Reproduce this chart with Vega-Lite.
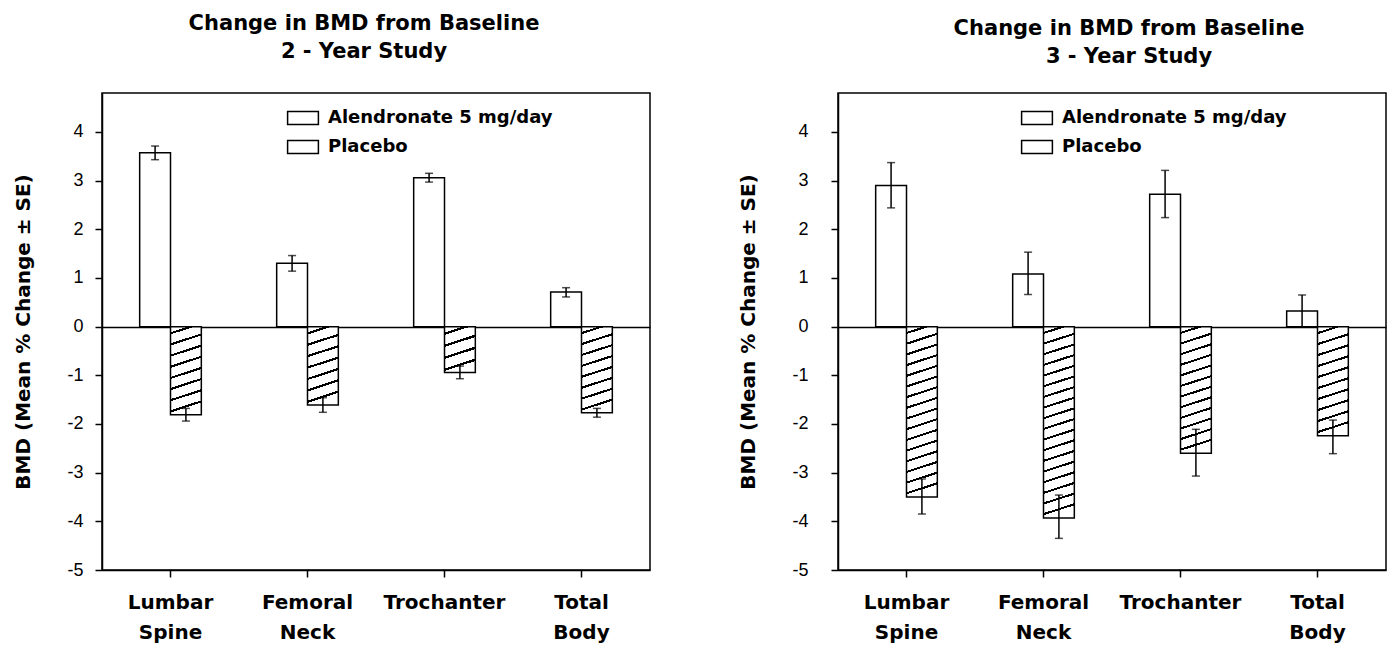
{
  "$schema": "https://vega.github.io/schema/vega-lite/v6.json",
  "background": "white",
  "padding": {"left": 13, "top": 12, "right": 5, "bottom": 5},
  "spacing": 87,
  "datasets": {
    "bmd": [
      {"study": "2-Year", "site": "Lumbar Spine", "group": "Alendronate 5 mg/day", "mean": 3.57, "lo": 3.43, "hi": 3.71},
      {"study": "2-Year", "site": "Lumbar Spine", "group": "Placebo", "mean": -1.81, "lo": -1.94, "hi": -1.68},
      {"study": "2-Year", "site": "Femoral Neck", "group": "Alendronate 5 mg/day", "mean": 1.30, "lo": 1.14, "hi": 1.46},
      {"study": "2-Year", "site": "Femoral Neck", "group": "Placebo", "mean": -1.61, "lo": -1.76, "hi": -1.46},
      {"study": "2-Year", "site": "Trochanter", "group": "Alendronate 5 mg/day", "mean": 3.06, "lo": 2.97, "hi": 3.15},
      {"study": "2-Year", "site": "Trochanter", "group": "Placebo", "mean": -0.94, "lo": -1.07, "hi": -0.81},
      {"study": "2-Year", "site": "Total Body", "group": "Alendronate 5 mg/day", "mean": 0.71, "lo": 0.61, "hi": 0.80},
      {"study": "2-Year", "site": "Total Body", "group": "Placebo", "mean": -1.77, "lo": -1.86, "hi": -1.68},
      {"study": "3-Year", "site": "Lumbar Spine", "group": "Alendronate 5 mg/day", "mean": 2.90, "lo": 2.44, "hi": 3.37},
      {"study": "3-Year", "site": "Lumbar Spine", "group": "Placebo", "mean": -3.50, "lo": -3.85, "hi": -3.13},
      {"study": "3-Year", "site": "Femoral Neck", "group": "Alendronate 5 mg/day", "mean": 1.08, "lo": 0.66, "hi": 1.53},
      {"study": "3-Year", "site": "Femoral Neck", "group": "Placebo", "mean": -3.93, "lo": -4.35, "hi": -3.46},
      {"study": "3-Year", "site": "Trochanter", "group": "Alendronate 5 mg/day", "mean": 2.72, "lo": 2.24, "hi": 3.21},
      {"study": "3-Year", "site": "Trochanter", "group": "Placebo", "mean": -2.60, "lo": -3.07, "hi": -2.11},
      {"study": "3-Year", "site": "Total Body", "group": "Alendronate 5 mg/day", "mean": 0.32, "lo": -0.01, "hi": 0.65},
      {"study": "3-Year", "site": "Total Body", "group": "Placebo", "mean": -2.24, "lo": -2.61, "hi": -1.92}
    ]
  },
  "resolve": {"scale": {"fill": "independent"}, "legend": {"fill": "independent"}},
  "config": {
    "view": {"stroke": "black", "strokeWidth": 1.5},
    "axis": {"domainColor": "black", "domainWidth": 1.5, "tickColor": "black", "tickWidth": 1.5, "tickSize": 7, "grid": false, "labelColor": "black", "titleColor": "black"},
    "title": {"font": "DejaVu Sans", "fontSize": 21, "fontWeight": "bold", "lineHeight": 28, "color": "black", "anchor": "middle"}
  },
  "hconcat": [
    {
      "width": 548,
      "height": 477,
      "title": {"text": ["Change in BMD from Baseline", "2 - Year Study"], "offset": 31, "dx": -12},
      "data": {"name": "bmd"},
      "transform": [{"filter": "datum.study === '2-Year'"}],
      "encoding": {
        "x": {"field": "site", "type": "nominal", "sort": ["Lumbar Spine", "Femoral Neck", "Trochanter", "Total Body"], "scale": {"paddingInner": 0.55, "paddingOuter": 0.275},
          "axis": {"title": null, "labelAngle": 0, "labelFont": "DejaVu Sans", "labelFontWeight": "bold", "labelFontSize": 20, "labelLineHeight": 30, "labelExpr": "split(datum.label, ' ')", "labelPadding": 15}},
        "xOffset": {"field": "group", "type": "nominal", "sort": ["Alendronate 5 mg/day", "Placebo"], "scale": {"paddingInner": 0, "paddingOuter": 0}}
      },
      "layer": [
        {
          "mark": {"type": "bar", "stroke": "black", "strokeWidth": 1.5},
          "encoding": {
            "y": {"field": "mean", "type": "quantitative", "title": "BMD (Mean % Change ± SE)", "scale": {"domain": [-5, 4.8], "nice": false, "zero": false},
              "axis": {"values": [-5, -4, -3, -2, -1, 0, 1, 2, 3, 4], "labelExpr": "toString(datum.value)", "labelFont": "Liberation Sans", "labelFontSize": 18, "labelPadding": 12, "titleFont": "DejaVu Sans", "titleFontWeight": "bold", "titleFontSize": 20, "titlePadding": 33, "grid": true, "gridColor": "black", "gridWidth": 1.5, "gridOpacity": {"condition": {"test": "datum.value === 0", "value": 1}, "value": 0}}},
            "fill": {
              "field": "group", "type": "nominal",
              "scale": {"domain": ["Alendronate 5 mg/day", "Placebo"], "range": ["white", "white"]},
              "legend": {"title": null, "orient": "none", "legendX": 186, "legendY": 10, "symbolType": "M-1.1,-0.46H1.1V0.46H-1.1Z", "symbolSize": 784, "symbolStrokeColor": "black", "symbolStrokeWidth": 1.5, "labelFont": "DejaVu Sans", "labelFontSize": 18, "labelFontWeight": "bold", "labelColor": "black", "labelOffset": 10, "labelLimit": 400, "rowPadding": 4},
              "condition": [
                {"test": "datum.group === 'Placebo' && datum.site === 'Lumbar Spine'", "value": {"gradient": "linear", "x1": 0, "y1": 0, "x2": 0.114, "y2": 1, "stops": [{"offset": 0, "color": "#fff"},
                  {"offset": 0.0625, "color": "#fff"}, {"offset": 0.0625, "color": "#000"}, {"offset": 0.0875, "color": "#000"}, {"offset": 0.0875, "color": "#fff"},
                  {"offset": 0.1875, "color": "#fff"}, {"offset": 0.1875, "color": "#000"}, {"offset": 0.2125, "color": "#000"}, {"offset": 0.2125, "color": "#fff"},
                  {"offset": 0.3125, "color": "#fff"}, {"offset": 0.3125, "color": "#000"}, {"offset": 0.3375, "color": "#000"}, {"offset": 0.3375, "color": "#fff"},
                  {"offset": 0.4375, "color": "#fff"}, {"offset": 0.4375, "color": "#000"}, {"offset": 0.4625, "color": "#000"}, {"offset": 0.4625, "color": "#fff"},
                  {"offset": 0.5625, "color": "#fff"}, {"offset": 0.5625, "color": "#000"}, {"offset": 0.5875, "color": "#000"}, {"offset": 0.5875, "color": "#fff"},
                  {"offset": 0.6875, "color": "#fff"}, {"offset": 0.6875, "color": "#000"}, {"offset": 0.7125, "color": "#000"}, {"offset": 0.7125, "color": "#fff"},
                  {"offset": 0.8125, "color": "#fff"}, {"offset": 0.8125, "color": "#000"}, {"offset": 0.8375, "color": "#000"}, {"offset": 0.8375, "color": "#fff"},
                  {"offset": 0.9375, "color": "#fff"}, {"offset": 0.9375, "color": "#000"}, {"offset": 0.9625, "color": "#000"}, {"offset": 0.9625, "color": "#fff"},
                  {"offset": 1, "color": "#fff"}]}},
                {"test": "datum.group === 'Placebo' && datum.site === 'Femoral Neck'", "value": {"gradient": "linear", "x1": 0, "y1": 0, "x2": 0.128, "y2": 1, "stops": [{"offset": 0, "color": "#fff"},
                  {"offset": 0.0714, "color": "#fff"}, {"offset": 0.0714, "color": "#000"}, {"offset": 0.1, "color": "#000"}, {"offset": 0.1, "color": "#fff"},
                  {"offset": 0.2143, "color": "#fff"}, {"offset": 0.2143, "color": "#000"}, {"offset": 0.2429, "color": "#000"}, {"offset": 0.2429, "color": "#fff"},
                  {"offset": 0.3571, "color": "#fff"}, {"offset": 0.3571, "color": "#000"}, {"offset": 0.3857, "color": "#000"}, {"offset": 0.3857, "color": "#fff"},
                  {"offset": 0.5, "color": "#fff"}, {"offset": 0.5, "color": "#000"}, {"offset": 0.5286, "color": "#000"}, {"offset": 0.5286, "color": "#fff"},
                  {"offset": 0.6429, "color": "#fff"}, {"offset": 0.6429, "color": "#000"}, {"offset": 0.6714, "color": "#000"}, {"offset": 0.6714, "color": "#fff"},
                  {"offset": 0.7857, "color": "#fff"}, {"offset": 0.7857, "color": "#000"}, {"offset": 0.8143, "color": "#000"}, {"offset": 0.8143, "color": "#fff"},
                  {"offset": 0.9286, "color": "#fff"}, {"offset": 0.9286, "color": "#000"}, {"offset": 0.9571, "color": "#000"}, {"offset": 0.9571, "color": "#fff"},
                  {"offset": 1, "color": "#fff"}]}},
                {"test": "datum.group === 'Placebo' && datum.site === 'Trochanter'", "value": {"gradient": "linear", "x1": 0, "y1": 0, "x2": 0.22, "y2": 1, "stops": [{"offset": 0, "color": "#fff"},
                  {"offset": 0.125, "color": "#fff"}, {"offset": 0.125, "color": "#000"}, {"offset": 0.175, "color": "#000"}, {"offset": 0.175, "color": "#fff"},
                  {"offset": 0.375, "color": "#fff"}, {"offset": 0.375, "color": "#000"}, {"offset": 0.425, "color": "#000"}, {"offset": 0.425, "color": "#fff"},
                  {"offset": 0.625, "color": "#fff"}, {"offset": 0.625, "color": "#000"}, {"offset": 0.675, "color": "#000"}, {"offset": 0.675, "color": "#fff"},
                  {"offset": 0.875, "color": "#fff"}, {"offset": 0.875, "color": "#000"}, {"offset": 0.925, "color": "#000"}, {"offset": 0.925, "color": "#fff"},
                  {"offset": 1, "color": "#fff"}]}},
                {"test": "datum.group === 'Placebo' && datum.site === 'Total Body'", "value": {"gradient": "linear", "x1": 0, "y1": 0, "x2": 0.115, "y2": 1, "stops": [{"offset": 0, "color": "#fff"},
                  {"offset": 0.0625, "color": "#fff"}, {"offset": 0.0625, "color": "#000"}, {"offset": 0.0875, "color": "#000"}, {"offset": 0.0875, "color": "#fff"},
                  {"offset": 0.1875, "color": "#fff"}, {"offset": 0.1875, "color": "#000"}, {"offset": 0.2125, "color": "#000"}, {"offset": 0.2125, "color": "#fff"},
                  {"offset": 0.3125, "color": "#fff"}, {"offset": 0.3125, "color": "#000"}, {"offset": 0.3375, "color": "#000"}, {"offset": 0.3375, "color": "#fff"},
                  {"offset": 0.4375, "color": "#fff"}, {"offset": 0.4375, "color": "#000"}, {"offset": 0.4625, "color": "#000"}, {"offset": 0.4625, "color": "#fff"},
                  {"offset": 0.5625, "color": "#fff"}, {"offset": 0.5625, "color": "#000"}, {"offset": 0.5875, "color": "#000"}, {"offset": 0.5875, "color": "#fff"},
                  {"offset": 0.6875, "color": "#fff"}, {"offset": 0.6875, "color": "#000"}, {"offset": 0.7125, "color": "#000"}, {"offset": 0.7125, "color": "#fff"},
                  {"offset": 0.8125, "color": "#fff"}, {"offset": 0.8125, "color": "#000"}, {"offset": 0.8375, "color": "#000"}, {"offset": 0.8375, "color": "#fff"},
                  {"offset": 0.9375, "color": "#fff"}, {"offset": 0.9375, "color": "#000"}, {"offset": 0.9625, "color": "#000"}, {"offset": 0.9625, "color": "#fff"},
                  {"offset": 1, "color": "#fff"}]}}
              ]
            }
          }
        },
        {
          "mark": {"type": "rule", "color": "black", "strokeWidth": 1.5},
          "encoding": {
            "y": {"field": "lo", "type": "quantitative", "title": "BMD (Mean % Change ± SE)", "scale": {"domain": [-5, 4.8], "nice": false, "zero": false}},
            "y2": {"field": "hi"}
          }
        },
        {
          "mark": {"type": "tick", "color": "black", "thickness": 1.5, "size": 8},
          "encoding": {"y": {"field": "lo", "type": "quantitative", "title": "BMD (Mean % Change ± SE)", "scale": {"domain": [-5, 4.8], "nice": false, "zero": false}}}
        },
        {
          "mark": {"type": "tick", "color": "black", "thickness": 1.5, "size": 8},
          "encoding": {"y": {"field": "hi", "type": "quantitative", "title": "BMD (Mean % Change ± SE)", "scale": {"domain": [-5, 4.8], "nice": false, "zero": false}}}
        }
      ]
    },
    {
      "width": 548,
      "height": 477,
      "title": {"text": ["Change in BMD from Baseline", "3 - Year Study"], "offset": 26, "dx": 17},
      "data": {"name": "bmd"},
      "transform": [{"filter": "datum.study === '3-Year'"}],
      "encoding": {
        "x": {"field": "site", "type": "nominal", "sort": ["Lumbar Spine", "Femoral Neck", "Trochanter", "Total Body"], "scale": {"paddingInner": 0.55, "paddingOuter": 0.275},
          "axis": {"title": null, "labelAngle": 0, "labelFont": "DejaVu Sans", "labelFontWeight": "bold", "labelFontSize": 20, "labelLineHeight": 30, "labelExpr": "split(datum.label, ' ')", "labelPadding": 15}},
        "xOffset": {"field": "group", "type": "nominal", "sort": ["Alendronate 5 mg/day", "Placebo"], "scale": {"paddingInner": 0, "paddingOuter": 0}}
      },
      "layer": [
        {
          "mark": {"type": "bar", "stroke": "black", "strokeWidth": 1.5},
          "encoding": {
            "y": {"field": "mean", "type": "quantitative", "title": "BMD (Mean % Change ± SE)", "scale": {"domain": [-5, 4.8], "nice": false, "zero": false},
              "axis": {"values": [-5, -4, -3, -2, -1, 0, 1, 2, 3, 4], "labelExpr": "toString(datum.value)", "labelFont": "Liberation Sans", "labelFontSize": 18, "labelPadding": 23, "titleFont": "DejaVu Sans", "titleFontWeight": "bold", "titleFontSize": 20, "titlePadding": 33, "grid": true, "gridColor": "black", "gridWidth": 1.5, "gridOpacity": {"condition": {"test": "datum.value === 0", "value": 1}, "value": 0}}},
            "fill": {
              "field": "group", "type": "nominal",
              "scale": {"domain": ["Alendronate 5 mg/day", "Placebo"], "range": ["white", "white"]},
              "legend": {"title": null, "orient": "none", "legendX": 184, "legendY": 10, "symbolType": "M-1.1,-0.46H1.1V0.46H-1.1Z", "symbolSize": 784, "symbolStrokeColor": "black", "symbolStrokeWidth": 1.5, "labelFont": "DejaVu Sans", "labelFontSize": 18, "labelFontWeight": "bold", "labelColor": "black", "labelOffset": 10, "labelLimit": 400, "rowPadding": 4},
              "condition": [
                {"test": "datum.group === 'Placebo' && datum.site === 'Lumbar Spine'", "value": {"gradient": "linear", "x1": 0, "y1": 0, "x2": 0.059, "y2": 1, "stops": [{"offset": 0, "color": "#fff"},
                  {"offset": 0.0313, "color": "#fff"}, {"offset": 0.0313, "color": "#000"}, {"offset": 0.0438, "color": "#000"}, {"offset": 0.0438, "color": "#fff"},
                  {"offset": 0.0938, "color": "#fff"}, {"offset": 0.0938, "color": "#000"}, {"offset": 0.1063, "color": "#000"}, {"offset": 0.1063, "color": "#fff"},
                  {"offset": 0.1563, "color": "#fff"}, {"offset": 0.1563, "color": "#000"}, {"offset": 0.1688, "color": "#000"}, {"offset": 0.1688, "color": "#fff"},
                  {"offset": 0.2188, "color": "#fff"}, {"offset": 0.2188, "color": "#000"}, {"offset": 0.2313, "color": "#000"}, {"offset": 0.2313, "color": "#fff"},
                  {"offset": 0.2813, "color": "#fff"}, {"offset": 0.2813, "color": "#000"}, {"offset": 0.2938, "color": "#000"}, {"offset": 0.2938, "color": "#fff"},
                  {"offset": 0.3438, "color": "#fff"}, {"offset": 0.3438, "color": "#000"}, {"offset": 0.3563, "color": "#000"}, {"offset": 0.3563, "color": "#fff"},
                  {"offset": 0.4063, "color": "#fff"}, {"offset": 0.4063, "color": "#000"}, {"offset": 0.4188, "color": "#000"}, {"offset": 0.4188, "color": "#fff"},
                  {"offset": 0.4688, "color": "#fff"}, {"offset": 0.4688, "color": "#000"}, {"offset": 0.4813, "color": "#000"}, {"offset": 0.4813, "color": "#fff"},
                  {"offset": 0.5313, "color": "#fff"}, {"offset": 0.5313, "color": "#000"}, {"offset": 0.5438, "color": "#000"}, {"offset": 0.5438, "color": "#fff"},
                  {"offset": 0.5938, "color": "#fff"}, {"offset": 0.5938, "color": "#000"}, {"offset": 0.6063, "color": "#000"}, {"offset": 0.6063, "color": "#fff"},
                  {"offset": 0.6563, "color": "#fff"}, {"offset": 0.6563, "color": "#000"}, {"offset": 0.6688, "color": "#000"}, {"offset": 0.6688, "color": "#fff"},
                  {"offset": 0.7188, "color": "#fff"}, {"offset": 0.7188, "color": "#000"}, {"offset": 0.7313, "color": "#000"}, {"offset": 0.7313, "color": "#fff"},
                  {"offset": 0.7813, "color": "#fff"}, {"offset": 0.7813, "color": "#000"}, {"offset": 0.7938, "color": "#000"}, {"offset": 0.7938, "color": "#fff"},
                  {"offset": 0.8438, "color": "#fff"}, {"offset": 0.8438, "color": "#000"}, {"offset": 0.8563, "color": "#000"}, {"offset": 0.8563, "color": "#fff"},
                  {"offset": 0.9063, "color": "#fff"}, {"offset": 0.9063, "color": "#000"}, {"offset": 0.9188, "color": "#000"}, {"offset": 0.9188, "color": "#fff"},
                  {"offset": 0.9688, "color": "#fff"}, {"offset": 0.9688, "color": "#000"}, {"offset": 0.9813, "color": "#000"}, {"offset": 0.9813, "color": "#fff"},
                  {"offset": 1, "color": "#fff"}]}},
                {"test": "datum.group === 'Placebo' && datum.site === 'Femoral Neck'", "value": {"gradient": "linear", "x1": 0, "y1": 0, "x2": 0.052, "y2": 1, "stops": [{"offset": 0, "color": "#fff"},
                  {"offset": 0.0278, "color": "#fff"}, {"offset": 0.0278, "color": "#000"}, {"offset": 0.0389, "color": "#000"}, {"offset": 0.0389, "color": "#fff"},
                  {"offset": 0.0833, "color": "#fff"}, {"offset": 0.0833, "color": "#000"}, {"offset": 0.0944, "color": "#000"}, {"offset": 0.0944, "color": "#fff"},
                  {"offset": 0.1389, "color": "#fff"}, {"offset": 0.1389, "color": "#000"}, {"offset": 0.15, "color": "#000"}, {"offset": 0.15, "color": "#fff"},
                  {"offset": 0.1944, "color": "#fff"}, {"offset": 0.1944, "color": "#000"}, {"offset": 0.2056, "color": "#000"}, {"offset": 0.2056, "color": "#fff"},
                  {"offset": 0.25, "color": "#fff"}, {"offset": 0.25, "color": "#000"}, {"offset": 0.2611, "color": "#000"}, {"offset": 0.2611, "color": "#fff"},
                  {"offset": 0.3056, "color": "#fff"}, {"offset": 0.3056, "color": "#000"}, {"offset": 0.3167, "color": "#000"}, {"offset": 0.3167, "color": "#fff"},
                  {"offset": 0.3611, "color": "#fff"}, {"offset": 0.3611, "color": "#000"}, {"offset": 0.3722, "color": "#000"}, {"offset": 0.3722, "color": "#fff"},
                  {"offset": 0.4167, "color": "#fff"}, {"offset": 0.4167, "color": "#000"}, {"offset": 0.4278, "color": "#000"}, {"offset": 0.4278, "color": "#fff"},
                  {"offset": 0.4722, "color": "#fff"}, {"offset": 0.4722, "color": "#000"}, {"offset": 0.4833, "color": "#000"}, {"offset": 0.4833, "color": "#fff"},
                  {"offset": 0.5278, "color": "#fff"}, {"offset": 0.5278, "color": "#000"}, {"offset": 0.5389, "color": "#000"}, {"offset": 0.5389, "color": "#fff"},
                  {"offset": 0.5833, "color": "#fff"}, {"offset": 0.5833, "color": "#000"}, {"offset": 0.5944, "color": "#000"}, {"offset": 0.5944, "color": "#fff"},
                  {"offset": 0.6389, "color": "#fff"}, {"offset": 0.6389, "color": "#000"}, {"offset": 0.65, "color": "#000"}, {"offset": 0.65, "color": "#fff"},
                  {"offset": 0.6944, "color": "#fff"}, {"offset": 0.6944, "color": "#000"}, {"offset": 0.7056, "color": "#000"}, {"offset": 0.7056, "color": "#fff"},
                  {"offset": 0.75, "color": "#fff"}, {"offset": 0.75, "color": "#000"}, {"offset": 0.7611, "color": "#000"}, {"offset": 0.7611, "color": "#fff"},
                  {"offset": 0.8056, "color": "#fff"}, {"offset": 0.8056, "color": "#000"}, {"offset": 0.8167, "color": "#000"}, {"offset": 0.8167, "color": "#fff"},
                  {"offset": 0.8611, "color": "#fff"}, {"offset": 0.8611, "color": "#000"}, {"offset": 0.8722, "color": "#000"}, {"offset": 0.8722, "color": "#fff"},
                  {"offset": 0.9167, "color": "#fff"}, {"offset": 0.9167, "color": "#000"}, {"offset": 0.9278, "color": "#000"}, {"offset": 0.9278, "color": "#fff"},
                  {"offset": 0.9722, "color": "#fff"}, {"offset": 0.9722, "color": "#000"}, {"offset": 0.9833, "color": "#000"}, {"offset": 0.9833, "color": "#fff"},
                  {"offset": 1, "color": "#fff"}]}},
                {"test": "datum.group === 'Placebo' && datum.site === 'Trochanter'", "value": {"gradient": "linear", "x1": 0, "y1": 0, "x2": 0.079, "y2": 1, "stops": [{"offset": 0, "color": "#fff"},
                  {"offset": 0.0417, "color": "#fff"}, {"offset": 0.0417, "color": "#000"}, {"offset": 0.0583, "color": "#000"}, {"offset": 0.0583, "color": "#fff"},
                  {"offset": 0.125, "color": "#fff"}, {"offset": 0.125, "color": "#000"}, {"offset": 0.1417, "color": "#000"}, {"offset": 0.1417, "color": "#fff"},
                  {"offset": 0.2083, "color": "#fff"}, {"offset": 0.2083, "color": "#000"}, {"offset": 0.225, "color": "#000"}, {"offset": 0.225, "color": "#fff"},
                  {"offset": 0.2917, "color": "#fff"}, {"offset": 0.2917, "color": "#000"}, {"offset": 0.3083, "color": "#000"}, {"offset": 0.3083, "color": "#fff"},
                  {"offset": 0.375, "color": "#fff"}, {"offset": 0.375, "color": "#000"}, {"offset": 0.3917, "color": "#000"}, {"offset": 0.3917, "color": "#fff"},
                  {"offset": 0.4583, "color": "#fff"}, {"offset": 0.4583, "color": "#000"}, {"offset": 0.475, "color": "#000"}, {"offset": 0.475, "color": "#fff"},
                  {"offset": 0.5417, "color": "#fff"}, {"offset": 0.5417, "color": "#000"}, {"offset": 0.5583, "color": "#000"}, {"offset": 0.5583, "color": "#fff"},
                  {"offset": 0.625, "color": "#fff"}, {"offset": 0.625, "color": "#000"}, {"offset": 0.6417, "color": "#000"}, {"offset": 0.6417, "color": "#fff"},
                  {"offset": 0.7083, "color": "#fff"}, {"offset": 0.7083, "color": "#000"}, {"offset": 0.725, "color": "#000"}, {"offset": 0.725, "color": "#fff"},
                  {"offset": 0.7917, "color": "#fff"}, {"offset": 0.7917, "color": "#000"}, {"offset": 0.8083, "color": "#000"}, {"offset": 0.8083, "color": "#fff"},
                  {"offset": 0.875, "color": "#fff"}, {"offset": 0.875, "color": "#000"}, {"offset": 0.8917, "color": "#000"}, {"offset": 0.8917, "color": "#fff"},
                  {"offset": 0.9583, "color": "#fff"}, {"offset": 0.9583, "color": "#000"}, {"offset": 0.975, "color": "#000"}, {"offset": 0.975, "color": "#fff"},
                  {"offset": 1, "color": "#fff"}]}},
                {"test": "datum.group === 'Placebo' && datum.site === 'Total Body'", "value": {"gradient": "linear", "x1": 0, "y1": 0, "x2": 0.092, "y2": 1, "stops": [{"offset": 0, "color": "#fff"},
                  {"offset": 0.05, "color": "#fff"}, {"offset": 0.05, "color": "#000"}, {"offset": 0.07, "color": "#000"}, {"offset": 0.07, "color": "#fff"},
                  {"offset": 0.15, "color": "#fff"}, {"offset": 0.15, "color": "#000"}, {"offset": 0.17, "color": "#000"}, {"offset": 0.17, "color": "#fff"},
                  {"offset": 0.25, "color": "#fff"}, {"offset": 0.25, "color": "#000"}, {"offset": 0.27, "color": "#000"}, {"offset": 0.27, "color": "#fff"},
                  {"offset": 0.35, "color": "#fff"}, {"offset": 0.35, "color": "#000"}, {"offset": 0.37, "color": "#000"}, {"offset": 0.37, "color": "#fff"},
                  {"offset": 0.45, "color": "#fff"}, {"offset": 0.45, "color": "#000"}, {"offset": 0.47, "color": "#000"}, {"offset": 0.47, "color": "#fff"},
                  {"offset": 0.55, "color": "#fff"}, {"offset": 0.55, "color": "#000"}, {"offset": 0.57, "color": "#000"}, {"offset": 0.57, "color": "#fff"},
                  {"offset": 0.65, "color": "#fff"}, {"offset": 0.65, "color": "#000"}, {"offset": 0.67, "color": "#000"}, {"offset": 0.67, "color": "#fff"},
                  {"offset": 0.75, "color": "#fff"}, {"offset": 0.75, "color": "#000"}, {"offset": 0.77, "color": "#000"}, {"offset": 0.77, "color": "#fff"},
                  {"offset": 0.85, "color": "#fff"}, {"offset": 0.85, "color": "#000"}, {"offset": 0.87, "color": "#000"}, {"offset": 0.87, "color": "#fff"},
                  {"offset": 0.95, "color": "#fff"}, {"offset": 0.95, "color": "#000"}, {"offset": 0.97, "color": "#000"}, {"offset": 0.97, "color": "#fff"},
                  {"offset": 1, "color": "#fff"}]}}
              ]
            }
          }
        },
        {
          "mark": {"type": "rule", "color": "black", "strokeWidth": 1.5},
          "encoding": {
            "y": {"field": "lo", "type": "quantitative", "title": "BMD (Mean % Change ± SE)", "scale": {"domain": [-5, 4.8], "nice": false, "zero": false}},
            "y2": {"field": "hi"}
          }
        },
        {
          "mark": {"type": "tick", "color": "black", "thickness": 1.5, "size": 8},
          "encoding": {"y": {"field": "lo", "type": "quantitative", "title": "BMD (Mean % Change ± SE)", "scale": {"domain": [-5, 4.8], "nice": false, "zero": false}}}
        },
        {
          "mark": {"type": "tick", "color": "black", "thickness": 1.5, "size": 8},
          "encoding": {"y": {"field": "hi", "type": "quantitative", "title": "BMD (Mean % Change ± SE)", "scale": {"domain": [-5, 4.8], "nice": false, "zero": false}}}
        }
      ]
    }
  ]
}
